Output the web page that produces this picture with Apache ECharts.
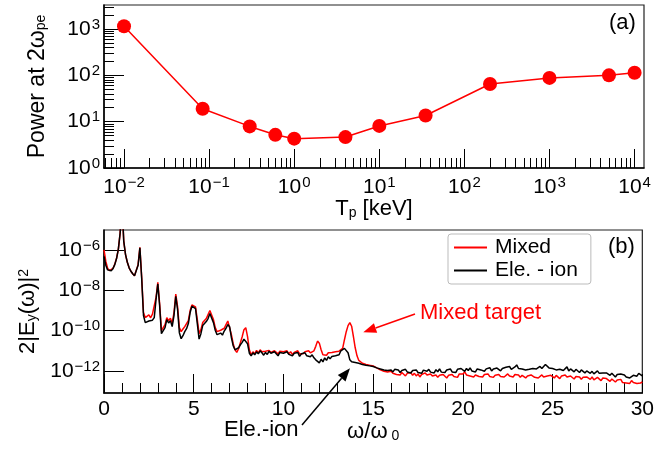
<!DOCTYPE html>
<html><head><meta charset="utf-8">
<script src="https://cdn.jsdelivr.net/npm/echarts@6/dist/echarts.min.js"></script>
<style>html,body{margin:0;padding:0;background:#fff}#c{width:657px;height:449px}</style>
</head><body><div id="c"></div>
<script>
// ---------- Panel (a) data ----------
const tpKeV = [0.01, 0.084, 0.3, 0.6, 1, 4, 10, 35, 200, 1000, 5000, 10000];
const power2wpe = [1150, 19, 7.9, 5.2, 4.3, 4.65, 8.1, 13.6, 65, 88, 100, 114];
const xMajorTicksA = [0.01, 0.1, 1, 10, 100, 1000, 10000];
const yMajorTicksA = [1, 10, 100, 1000];
const xRangeA = [0.00582, 12900];
const yRangeA = [1, 3300];

// ---------- Panel (b) data (log10 of 2|Ey(w)|^2, sampled every 0.1 in w/w0 from 0 to 30) ----------
const omegaStep = 0.1;
const yMajorTicksB = [1e-12, 1e-10, 1e-8, 1e-6];
const yRangeB = [8e-14, 1e-5];
const mixedLog = [
 -5.99,-6.55,-6.9,-7.02,-7.0,-6.9,-6.7,-6.4,-5.95,-5.15,
 -3.6,-5.55,-6.22,-6.6,-6.88,-7.05,-7.17,-7.27,-7.33,-6.72,
 -5.86,-7.35,-9.1,-9.35,-9.28,-9.22,-9.36,-9.18,-9.12,-8.35,
 -7.6,-8.65,-10.0,-10.0,-9.7,-9.35,-9.5,-9.38,-9.62,-9.1,
 -8.18,-8.8,-9.85,-10.05,-9.92,-9.8,-9.72,-9.5,-9.0,-8.72,
 -8.68,-8.82,-9.45,-10.15,-9.95,-9.6,-9.55,-9.4,-9.2,-9.0,
 -9.05,-9.45,-9.85,-10.05,-10.12,-9.98,-10.05,-9.88,-9.7,-9.52,
 -9.6,-10.2,-10.65,-10.95,-11.08,-10.9,-10.6,-10.3,-9.95,-9.85,
 -10.3,-10.95,-11.2,-11.05,-11.15,-10.98,-11.1,-10.95,-11.05,-11.12,
 -11.02,-11.1,-10.98,-11.08,-11.12,-11.0,-11.05,-11.15,-11.02,-11.1,
 -11.05,-11.12,-11.0,-11.15,-11.05,-11.18,-11.08,-11.12,-11.0,-11.15,
 -11.08,-11.15,-11.05,-11.12,-11.0,-11.1,-11.05,-11.0,-10.78,-10.52,
 -10.62,-10.95,-11.2,-11.15,-11.22,-11.1,-11.18,-11.08,-11.15,-11.05,
 -11.1,-11.02,-10.95,-10.88,-10.45,-10.05,-9.75,-9.6,-9.78,-10.3,
 -10.85,-11.25,-11.48,-11.55,-11.62,-11.58,-11.68,-11.62,-11.72,-11.7,
 -11.75,-11.8,-11.85,-11.9,-11.95,-11.88,-12.02,-11.95,-12.05,-12.1,
 -12.02,-12.12,-12.05,-12.18,-12.1,-12.2,-12.08,-12.15,-12.25,-12.12,
 -12.18,-12.08,-12.22,-12.12,-12.25,-12.15,-12.3,-12.18,-12.22,-12.1,
 -12.2,-12.28,-12.15,-12.25,-12.3,-12.2,-12.32,-12.22,-12.28,-12.18,
 -12.25,-12.35,-12.22,-12.3,-12.18,-12.28,-12.2,-12.32,-12.15,-12.1,
 -12.15,-12.05,-12.2,-12.12,-12.25,-12.18,-12.3,-12.2,-12.15,-12.28,
 -12.22,-12.3,-12.18,-12.25,-12.15,-12.28,-12.2,-12.32,-12.22,-12.25,
 -12.18,-12.28,-12.2,-12.3,-12.22,-12.15,-12.25,-12.2,-12.3,-12.18,
 -12.25,-12.2,-12.32,-12.22,-12.28,-12.35,-12.25,-12.3,-12.2,-12.28,
 -12.32,-12.25,-12.35,-12.28,-12.2,-12.3,-12.38,-12.25,-12.32,-12.22,
 -12.28,-12.35,-12.22,-12.3,-12.38,-12.25,-12.32,-12.2,-12.3,-12.35,
 -12.25,-12.32,-12.4,-12.28,-12.35,-12.3,-12.42,-12.32,-12.38,-12.3,
 -12.35,-12.42,-12.3,-12.45,-12.38,-12.32,-12.4,-12.48,-12.35,-12.42,
 -12.38,-12.45,-12.52,-12.4,-12.48,-12.55,-12.45,-12.5,-12.42,-12.58,
 -12.5,-12.6,-12.55,-12.62,-12.48,-12.58,-12.52,-12.62,-12.55,-12.6,
 -12.55
];
const eleIonLog = [
 -6.31,-6.75,-6.98,-7.05,-7.02,-6.92,-6.72,-6.42,-5.95,-5.15,
 -3.6,-5.55,-6.22,-6.6,-6.88,-7.05,-7.17,-7.27,-7.35,-6.75,
 -5.88,-7.4,-9.25,-9.6,-9.62,-9.52,-9.6,-9.48,-9.35,-8.45,
 -7.68,-8.75,-10.15,-10.2,-9.85,-9.45,-9.62,-9.5,-9.8,-9.25,
 -8.3,-8.95,-10.1,-10.4,-10.25,-10.05,-9.9,-9.65,-9.1,-8.78,
 -8.72,-8.9,-9.65,-10.42,-10.15,-9.75,-9.7,-9.55,-9.4,-9.15,
 -9.22,-9.6,-9.98,-10.2,-10.28,-10.12,-10.22,-10.02,-9.88,-9.7,
 -9.8,-10.35,-10.75,-10.95,-11.0,-10.85,-10.7,-10.58,-10.42,-10.35,
 -10.65,-11.12,-11.25,-11.1,-11.2,-11.05,-11.15,-11.0,-11.1,-11.22,
 -11.08,-11.18,-11.02,-11.12,-11.2,-11.05,-11.1,-11.25,-11.08,-11.15,
 -11.12,-11.2,-11.05,-11.18,-11.1,-11.25,-11.12,-11.2,-11.08,-11.28,
 -11.15,-11.22,-11.1,-11.25,-11.18,-11.3,-11.2,-11.35,-11.45,-11.5,
 -11.6,-11.42,-11.55,-11.35,-11.48,-11.3,-11.4,-11.28,-11.35,-11.25,
 -11.3,-11.2,-11.0,-10.92,-10.88,-10.9,-11.1,-11.45,-11.55,-11.5,
 -11.58,-11.55,-11.62,-11.6,-11.68,-11.6,-11.72,-11.65,-11.75,-11.7,
 -11.78,-11.72,-11.85,-11.8,-11.9,-11.82,-11.95,-11.88,-11.98,-11.9,
 -11.95,-12.05,-11.92,-12.0,-11.95,-12.08,-11.98,-12.02,-11.92,-12.05,
 -12.0,-12.1,-11.98,-12.05,-11.95,-12.08,-12.0,-12.12,-11.96,-12.04,
 -12.02,-11.92,-12.06,-11.98,-12.1,-11.94,-12.04,-11.9,-12.06,-12.0,
 -12.08,-11.95,-12.02,-11.9,-12.05,-11.96,-12.08,-11.92,-12.0,-11.88,
 -11.95,-12.02,-11.88,-11.98,-11.85,-12.0,-11.92,-12.05,-11.9,-11.82,
 -11.95,-11.88,-12.02,-11.9,-11.96,-11.84,-12.0,-11.9,-11.98,-11.86,
 -11.92,-12.0,-11.88,-11.95,-11.82,-11.9,-11.78,-11.92,-11.85,-11.8,
 -11.7,-11.88,-11.8,-11.9,-11.82,-11.95,-11.86,-11.92,-11.84,-11.88,
 -11.82,-11.9,-11.85,-11.78,-11.88,-11.8,-11.68,-11.62,-11.85,-11.78,
 -11.88,-11.82,-11.95,-11.86,-11.92,-11.84,-11.98,-11.9,-11.8,-12.0,
 -11.9,-11.98,-12.05,-11.92,-12.0,-12.08,-11.95,-12.02,-12.1,-12.0,
 -12.05,-12.12,-12.02,-12.15,-12.08,-12.0,-12.12,-12.2,-12.1,-12.18,
 -12.1,-12.15,-12.22,-12.12,-12.2,-12.3,-12.18,-12.25,-12.15,-12.22,
 -12.2,-12.3,-12.25,-12.35,-12.28,-12.22,-12.3,-12.26,-12.12,-12.2,
 -12.25
];

// ---------- helpers ----------
const FONT = "'Liberation Sans', Arial, Helvetica, sans-serif";
function logMinor(lo, hi) {
  const out = [];
  for (let n = -4; n <= 5; n++) for (let k = 2; k <= 9; k++) {
    const v = k * Math.pow(10, n);
    if (v > lo && v < hi) out.push(v);
  }
  return out;
}
function powLabel(v) {
  const e = Math.round(Math.log10(v));
  return '{b|10}{s|' + (e < 0 ? '\u2212' + (-e) : e) + '}';
}
const powRich = {
  b: { fontSize: 21, fontFamily: FONT, color: '#000' },
  s: { fontSize: 15, fontFamily: FONT, color: '#000', padding: [0, 0, 9, 1] }
};
const nameRich = {
  sub: { fontSize: 14, fontFamily: FONT, color: '#000', padding: [8, 0, 0, 0] },
  sup: { fontSize: 14, fontFamily: FONT, color: '#000', padding: [0, 0, 9, 0] }
};
const nameStyle = { fontSize: 22, fontFamily: FONT, color: '#000', rich: nameRich };
const toPairs = (arr) => arr.map((L, i) => [Math.round(i * omegaStep * 10) / 10, Math.pow(10, L)]);
const blackLine = { color: '#000', width: 1.5 };
const tickLine = { color: '#000', width: 1 };

const chart = echarts.init(document.getElementById('c'), null, { renderer: 'canvas' });
chart.setOption({
  animation: false,
  backgroundColor: '#fff',
  grid: [
    { left: 104, top: 5, width: 540, height: 163, show: true, borderColor: '#222', borderWidth: 1.2 },
    { left: 104, top: 230, width: 540, height: 163, show: true, borderColor: '#222', borderWidth: 1.2 }
  ],
  legend: {
    orient: 'vertical', left: 448, top: 234,
    data: ['Mixed', 'Ele. - ion'],
    icon: 'rect', itemWidth: 33, itemHeight: 2, itemGap: 2,
    padding: [3, 13, 3, 6],
    borderColor: '#bbb', borderWidth: 1, borderRadius: 3,
    textStyle: { fontSize: 21, fontFamily: FONT, color: '#000', padding: [0, 0, 0, 3] }
  },
  xAxis: [
    { gridIndex: 0, type: 'log', min: xRangeA[0], max: xRangeA[1], position: 'bottom',
      axisLine: { lineStyle: blackLine },
      axisTick: { inside: true, length: 19, lineStyle: tickLine, customValues: xMajorTicksA },
      axisLabel: { customValues: xMajorTicksA, formatter: powLabel, rich: powRich, margin: 7 },
      splitLine: { show: false },
      name: 'T{sub|p} [keV]', nameLocation: 'middle', nameGap: 28, nameTextStyle: nameStyle },
    { gridIndex: 0, type: 'log', min: xRangeA[0], max: xRangeA[1], position: 'bottom',
      axisLine: { show: false },
      axisTick: { inside: true, length: 10, lineStyle: tickLine, customValues: logMinor(xRangeA[0], xRangeA[1]) },
      axisLabel: { show: false }, splitLine: { show: false } },
    { gridIndex: 1, type: 'value', min: 0, max: 30, interval: 5, position: 'bottom',
      axisLine: { lineStyle: blackLine },
      axisTick: { inside: true, length: 19, lineStyle: tickLine },
      minorTick: { show: true, splitNumber: 5, length: 10, lineStyle: tickLine },
      axisLabel: { fontSize: 21, fontFamily: FONT, color: '#000', margin: 6 },
      splitLine: { show: false }, minorSplitLine: { show: false },
      name: '\u03c9/\u03c9{sub| 0}', nameLocation: 'middle', nameGap: 26, nameTextStyle: nameStyle }
  ],
  yAxis: [
    { gridIndex: 0, type: 'log', min: yRangeA[0], max: yRangeA[1], position: 'left',
      axisLine: { lineStyle: blackLine },
      axisTick: { inside: true, length: 20, lineStyle: tickLine, customValues: yMajorTicksA },
      axisLabel: { customValues: yMajorTicksA, formatter: powLabel, rich: powRich, margin: 4 },
      splitLine: { show: false },
      name: 'Power at 2\u03c9{sub|pe}', nameLocation: 'middle', nameGap: 55, nameTextStyle: Object.assign({}, nameStyle, { fontSize: 23 }) },
    { gridIndex: 0, type: 'log', min: yRangeA[0], max: yRangeA[1], position: 'left',
      axisLine: { show: false },
      axisTick: { inside: true, length: 10, lineStyle: tickLine, customValues: logMinor(yRangeA[0], yRangeA[1]) },
      axisLabel: { show: false }, splitLine: { show: false } },
    { gridIndex: 1, type: 'log', min: yRangeB[0], max: yRangeB[1], position: 'left',
      axisLine: { lineStyle: blackLine },
      axisTick: { inside: true, length: 20, lineStyle: tickLine, customValues: yMajorTicksB },
      axisLabel: { customValues: yMajorTicksB, formatter: powLabel, rich: powRich, margin: 4 },
      splitLine: { show: false },
      name: '2|E{sub|y}(\u03c9)|{sup|2}', nameLocation: 'middle', nameGap: 63, nameTextStyle: nameStyle }
  ],
  series: [
    { type: 'line', xAxisIndex: 0, yAxisIndex: 0,
      data: tpKeV.map((t, i) => [t, power2wpe[i]]),
      symbol: 'circle', symbolSize: 14,
      itemStyle: { color: '#ff0000' }, lineStyle: { color: '#ff0000', width: 1.5 } },
    { type: 'line', name: 'Mixed', xAxisIndex: 2, yAxisIndex: 2,
      data: toPairs(mixedLog), symbol: 'none', showSymbol: false,
      itemStyle: { color: '#ff0000' }, lineStyle: { color: '#ff0000', width: 1.5 } },
    { type: 'line', name: 'Ele. - ion', xAxisIndex: 2, yAxisIndex: 2,
      data: toPairs(eleIonLog), symbol: 'none', showSymbol: false,
      itemStyle: { color: '#000' }, lineStyle: { color: '#000', width: 1.5 } }
  ],
  graphic: [
    { type: 'text', left: 609, top: 12, style: { text: '(a)', font: '22px ' + FONT, fill: '#000' } },
    { type: 'text', left: 608, top: 236, style: { text: '(b)', font: '22px ' + FONT, fill: '#000' } },
    { type: 'text', left: 420, top: 302, style: { text: 'Mixed target', font: '22px ' + FONT, fill: '#ff0000' } },
    { type: 'text', left: 224, top: 419, style: { text: 'Ele.-ion', font: '22px ' + FONT, fill: '#000' } },
    { type: 'line', shape: { x1: 415, y1: 314, x2: 375.6, y2: 328 }, style: { stroke: '#ff0000', lineWidth: 1.5 } },
    { type: 'polygon', shape: { points: [[363.3, 332.3], [373.9, 323.2], [377.2, 332.7]] }, style: { fill: '#ff0000' } },
    { type: 'line', shape: { x1: 302, y1: 425, x2: 341.6, y2: 378.3 }, style: { stroke: '#000', lineWidth: 1.5 } },
    { type: 'polygon', shape: { points: [[350, 368.3], [345.5, 381.5], [337.8, 375.0]] }, style: { fill: '#000' } }
  ]
});
</script>
</body></html>
